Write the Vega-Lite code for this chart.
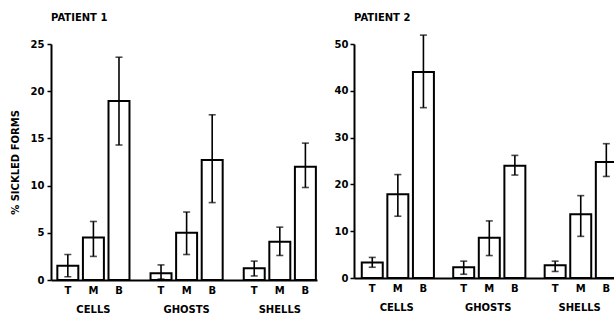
{
  "$schema": "https://vega.github.io/schema/vega-lite/v6.json",
  "padding": {"left": 10, "top": 13, "right": 0, "bottom": 0},
  "autosize": {"type": "pad"},
  "background": "white",
  "config": {
    "view": {"stroke": null},
    "font": "DejaVu Sans",
    "axis": {
      "domainColor": "black", "domainWidth": 2, "tickColor": "black", "tickWidth": 1.5,
      "labelColor": "black", "labelFont": "DejaVu Sans", "labelFontWeight": "bold", "labelFontSize": 10,
      "titleColor": "black", "titleFont": "DejaVu Sans", "titleFontWeight": "bold", "titleFontSize": 10,
      "grid": false
    },
    "title": {"font": "DejaVu Sans", "fontWeight": "bold", "fontSize": 10, "color": "black", "anchor": "start", "frame": "group"}
  },
  "datasets": {
    "sickle": [
      {"patient": 1, "group": "CELLS", "bar": "T", "value": 1.5, "lo": 0.35, "hi": 2.7},
      {"patient": 1, "group": "CELLS", "bar": "M", "value": 4.5, "lo": 2.5, "hi": 6.2},
      {"patient": 1, "group": "CELLS", "bar": "B", "value": 18.95, "lo": 14.3, "hi": 23.6},
      {"patient": 1, "group": "GHOSTS", "bar": "T", "value": 0.72, "lo": 0.1, "hi": 1.6},
      {"patient": 1, "group": "GHOSTS", "bar": "M", "value": 5.0, "lo": 2.7, "hi": 7.2},
      {"patient": 1, "group": "GHOSTS", "bar": "B", "value": 12.7, "lo": 8.2, "hi": 17.5},
      {"patient": 1, "group": "SHELLS", "bar": "T", "value": 1.25, "lo": 0.43, "hi": 2.0},
      {"patient": 1, "group": "SHELLS", "bar": "M", "value": 4.05, "lo": 2.6, "hi": 5.6},
      {"patient": 1, "group": "SHELLS", "bar": "B", "value": 12.0, "lo": 9.8, "hi": 14.5},
      {"patient": 2, "group": "CELLS", "bar": "T", "value": 3.3, "lo": 2.3, "hi": 4.4},
      {"patient": 2, "group": "CELLS", "bar": "M", "value": 17.9, "lo": 13.2, "hi": 22.1},
      {"patient": 2, "group": "CELLS", "bar": "B", "value": 44.0, "lo": 36.4, "hi": 51.9},
      {"patient": 2, "group": "GHOSTS", "bar": "T", "value": 2.3, "lo": 0.8, "hi": 3.6},
      {"patient": 2, "group": "GHOSTS", "bar": "M", "value": 8.6, "lo": 4.8, "hi": 12.2},
      {"patient": 2, "group": "GHOSTS", "bar": "B", "value": 24.0, "lo": 22.0, "hi": 26.2},
      {"patient": 2, "group": "SHELLS", "bar": "T", "value": 2.7, "lo": 1.4, "hi": 3.6},
      {"patient": 2, "group": "SHELLS", "bar": "M", "value": 13.6, "lo": 8.9, "hi": 17.6},
      {"patient": 2, "group": "SHELLS", "bar": "B", "value": 24.8, "lo": 21.7, "hi": 28.7}
    ]
  },
  "hconcat": [
    {
      "width": 266, "height": 236,
      "title": {"text": "PATIENT  1", "offset": 16},
      "data": {"name": "sickle"},
      "transform": [{"filter": "datum.patient == 1"}],
      "encoding": {
        "x": {"field": "group", "type": "nominal", "sort": ["CELLS", "GHOSTS", "SHELLS"],
              "scale": {"paddingInner": 0.226, "paddingOuter": 0.04, "align": 0.85},
              "axis": {"title": null, "ticks": false, "labelAngle": 0, "labelPadding": 24}},
        "xOffset": {"field": "bar", "type": "nominal", "sort": ["T", "M", "B"],
                    "scale": {"paddingInner": 0.18, "paddingOuter": 0}}
      },
      "layer": [
        {"mark": {"type": "bar", "fill": "white", "stroke": "black", "strokeWidth": 2},
         "encoding": {"y": {"field": "value", "type": "quantitative",
                            "scale": {"domain": [0, 25], "nice": false},
                            "axis": {"title": "% SICKLED  FORMS", "values": [0, 5, 10, 15, 20, 25], "tickSize": 4, "labelPadding": 3, "titlePadding": 10}}}},
        {"mark": {"type": "rule", "color": "black", "strokeWidth": 1.6},
         "encoding": {"y": {"field": "lo", "type": "quantitative"}, "y2": {"field": "hi"}}},
        {"mark": {"type": "tick", "color": "black", "size": 7, "thickness": 1.6},
         "encoding": {"y": {"field": "hi", "type": "quantitative"}}},
        {"mark": {"type": "tick", "color": "black", "size": 7, "thickness": 1.6},
         "encoding": {"y": {"field": "lo", "type": "quantitative"}}},
        {"mark": {"type": "text", "color": "black", "fontWeight": "bold", "fontSize": 10, "baseline": "top", "dy": 6},
         "encoding": {"y": {"datum": 0, "type": "quantitative"}, "text": {"field": "bar"}}}
      ]
    },
    {
      "width": 262, "height": 234,
      "title": {"text": "PATIENT  2", "offset": 11},
      "data": {"name": "sickle"},
      "transform": [{"filter": "datum.patient == 2"}],
      "encoding": {
        "x": {"field": "group", "type": "nominal", "sort": ["CELLS", "GHOSTS", "SHELLS"],
              "scale": {"paddingInner": 0.235, "paddingOuter": 0.05, "align": 0.85},
              "axis": {"title": null, "ticks": false, "labelAngle": 0, "labelPadding": 24}},
        "xOffset": {"field": "bar", "type": "nominal", "sort": ["T", "M", "B"],
                    "scale": {"paddingInner": 0.18, "paddingOuter": 0}}
      },
      "layer": [
        {"mark": {"type": "bar", "fill": "white", "stroke": "black", "strokeWidth": 2},
         "encoding": {"y": {"field": "value", "type": "quantitative",
                            "scale": {"domain": [0, 50], "nice": false},
                            "axis": {"title": null, "values": [0, 10, 20, 30, 40, 50], "tickSize": 4, "labelPadding": 2}}}},
        {"mark": {"type": "rule", "color": "black", "strokeWidth": 1.6},
         "encoding": {"y": {"field": "lo", "type": "quantitative"}, "y2": {"field": "hi"}}},
        {"mark": {"type": "tick", "color": "black", "size": 7, "thickness": 1.6},
         "encoding": {"y": {"field": "hi", "type": "quantitative"}}},
        {"mark": {"type": "tick", "color": "black", "size": 7, "thickness": 1.6},
         "encoding": {"y": {"field": "lo", "type": "quantitative"}}},
        {"mark": {"type": "text", "color": "black", "fontWeight": "bold", "fontSize": 10, "baseline": "top", "dy": 6},
         "encoding": {"y": {"datum": 0, "type": "quantitative"}, "text": {"field": "bar"}}}
      ]
    }
  ],
  "spacing": 17
}
